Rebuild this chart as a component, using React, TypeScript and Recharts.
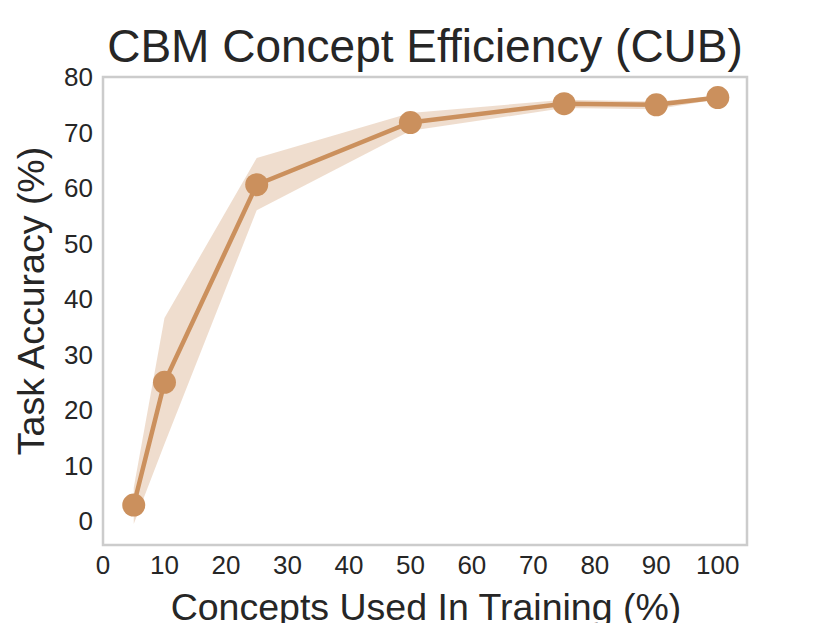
import { Area, ComposedChart, Line, ReferenceArea, XAxis, YAxis } from "recharts";

// Values
const concepts = [5, 10, 25, 50, 75, 90, 100];
const accuracy = [2.9, 25.0, 60.6, 71.8, 75.2, 75.0, 76.3];
const lower = [-0.5, 13.9, 56.0, 70.3, 74.4, 74.2, 76.0];
const upper = [6.0, 36.6, 65.4, 73.5, 75.9, 75.6, 76.6];
const xTicks = [0, 10, 20, 30, 40, 50, 60, 70, 80, 90, 100];
const yTicks = [0, 10, 20, 30, 40, 50, 60, 70, 80];
const xDomain = [0, 104.75];
const yDomain = [-4.3, 80];

const color = "#cb905d";
const frame = "#cccccc";
const ink = "#262626";
const font = "'Liberation Sans', Arial, sans-serif";

const data = concepts.map((c, i) => ({
  concepts: c,
  accuracy: accuracy[i],
  band: [lower[i], upper[i]],
}));

export default function App() {
  const W = 830;
  const H = 623;
  return (
    <div style={{ position: "absolute", left: 0, top: 0, width: W, height: H, background: "#fff", fontFamily: font }}>
      <ComposedChart
        width={W}
        height={H}
        data={data}
        margin={{ top: 77, right: 83, bottom: 38, left: 43 }}
      >
        <XAxis
          dataKey="concepts"
          type="number"
          domain={xDomain}
          ticks={xTicks}
          allowDataOverflow
          height={40}
          tickLine={false}
          tickSize={0}
          tickMargin={11}
          axisLine={false}
          tick={{ fill: ink, fontSize: 26, fontFamily: font }}
          interval={0}
        />
        <YAxis
          type="number"
          domain={yDomain}
          ticks={yTicks}
          allowDataOverflow
          width={60}
          tickLine={false}
          tickSize={0}
          tickMargin={10}
          axisLine={false}
          tick={{ fill: ink, fontSize: 26, fontFamily: font }}
          interval={0}
        />
        {/* plot frame */}
        <ReferenceArea
          x1={xDomain[0]}
          x2={xDomain[1]}
          y1={yDomain[0]}
          y2={yDomain[1]}
          fill="none"
          stroke={frame}
          strokeWidth={2.5}
          ifOverflow="visible"
        />
        <Area
          type="linear"
          dataKey="band"
          stroke="none"
          fill={color}
          fillOpacity={0.3}
          isAnimationActive={false}
          activeDot={false}
        />
        <Line
          type="linear"
          dataKey="accuracy"
          stroke={color}
          strokeWidth={4.5}
          dot={{ r: 11.5, fill: color, stroke: color, strokeWidth: 0 }}
          activeDot={false}
          isAnimationActive={false}
        />
      </ComposedChart>
      <svg width={W} height={H} style={{ position: "absolute", left: 0, top: 0, pointerEvents: "none" }}>
        <text x={425} y={62} textAnchor="middle" fontSize={46} fill={ink} fontFamily={font}>
          CBM Concept Efficiency (CUB)
        </text>
        <text x={426} y={620} textAnchor="middle" fontSize={37.5} fill={ink} fontFamily={font}>
          Concepts Used In Training (%)
        </text>
        <text
          x={0}
          y={0}
          transform="translate(44 301) rotate(-90)"
          textAnchor="middle"
          fontSize={37.5}
          fill={ink}
          fontFamily={font}
        >
          Task Accuracy (%)
        </text>
      </svg>
    </div>
  );
}
